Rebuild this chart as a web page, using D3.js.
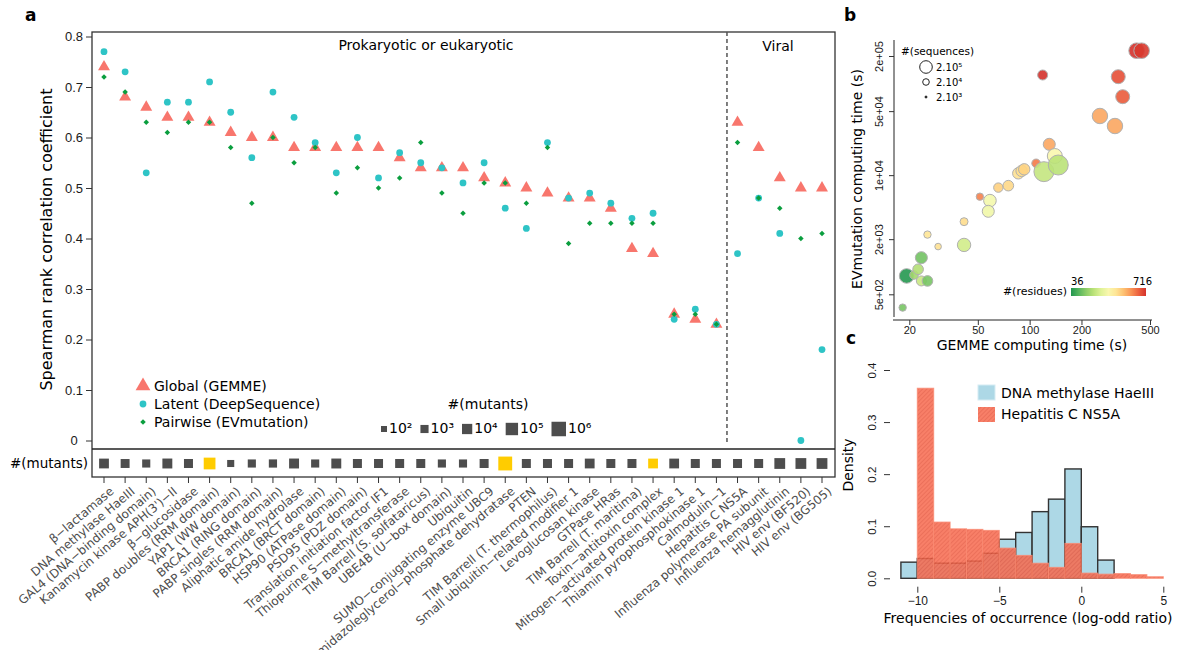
<!DOCTYPE html>
<html>
<head>
<meta charset="utf-8">
<style>
body { margin: 0; background: #fff; }
svg { font-family: "DejaVu Sans", sans-serif; }
.axis path { display: none; }
.axis line { stroke: #333; }
.axis text { fill: #1a1a1a; }
.cat text { fill: #4d4d4d; }
</style>
</head>
<body>
<svg width="1178" height="650"></svg>
<script src="https://d3js.org/d3.v7.min.js"></script>
<script>

// ---- panel a data ----
var proteins = ["β−lactamase", "DNA methylase HaeIII", "GAL4 (DNA−binding domain)", "Kanamycin kinase APH(3')−II",
  "β−glucosidase", "PABP doubles (RRM domain)", "YAP1 (WW domain)", "BRCA1 (RING domain)", "PABP singles (RRM domain)",
  "Aliphatic amide hydrolase", "BRCA1 (BRCT domain)", "HSP90 (ATPase domain)", "PSD95 (PDZ domain)",
  "Translation initiation factor IF1", "Thiopurine S−methyltransferase", "TIM Barrell (S. solfataricus)",
  "UBE4B (U−box domain)", "Ubiquitin", "SUMO−conjugating enzyme UBC9", "Imidazoleglycerol−phosphate dehydratase",
  "PTEN", "TIM Barrell (T. thermophilus)", "Small ubiquitin−related modifier 1", "Levoglucosan kinase",
  "GTPase HRas", "TIM Barrell (T. maritima)", "Toxin−antitoxin complex", "Mitogen−activated protein kinase 1",
  "Thiamin pyrophosphokinase 1", "Calmodulin−1", "Hepatitis C NS5A", "Influenza polymerase PA subunit",
  "Influenza hemagglutinin", "HIV env (BF520)", "HIV env (BG505)"];
var nViral = 5;

var gemmeRho = [0.74, 0.68, 0.66, 0.64, 0.64, 0.63, 0.61, 0.60, 0.60, 0.58, 0.58, 0.58, 0.58, 0.58, 0.56, 0.54, 0.54, 0.54,
  0.52, 0.51, 0.50, 0.49, 0.48, 0.48, 0.46, 0.38, 0.37, 0.25, 0.24, 0.23, 0.63, 0.58, 0.52, 0.50, 0.50];
var deepRho = [0.77, 0.73, 0.53, 0.67, 0.67, 0.71, 0.65, 0.56, 0.69, 0.64, 0.59, 0.53, 0.60, 0.52, 0.57, 0.55, 0.54, 0.51,
  0.55, 0.46, 0.42, 0.59, 0.48, 0.49, 0.47, 0.44, 0.45, 0.24, 0.26, 0.23, 0.37, 0.48, 0.41, 0.00, 0.18];
var evRho = [0.72, 0.69, 0.63, 0.61, 0.63, 0.63, 0.58, 0.47, 0.60, 0.55, 0.58, 0.49, 0.54, 0.50, 0.52, 0.59, 0.49, 0.45,
  0.51, 0.51, 0.47, 0.58, 0.39, 0.43, 0.43, 0.43, 0.43, 0.25, 0.25, 0.23, 0.59, 0.48, 0.46, 0.40, 0.41];
var mutants = [6000, 2400, 1000, 7000, 2600, 50000, 320, 1000, 1100, 7000, 1000, 7000, 2600, 2600, 2600, 2600, 1000, 1000,
  2600, 500000, 2600, 2600, 2600, 6000, 2600, 2600, 6000, 6000, 2600, 2600, 2600, 2600, 18000, 18000, 18000];
var multiMutant = ["PABP doubles (RRM domain)", "Imidazoleglycerol−phosphate dehydratase", "Toxin−antitoxin complex"];
var yTicksA = [0, 0.1, 0.2, 0.3, 0.4, 0.5, 0.6, 0.7, 0.8];
var mutantLegend = [1e2, 1e3, 1e4, 1e5, 1e6];
var mutantLegendLabels = ["10²", "10³", "10⁴", "10⁵", "10⁶"];
var methods = ["Global (GEMME)", "Latent (DeepSequence)", "Pairwise (EVmutation)"];

// ---- panel b data ----
var gemmeTime = [18.3, 19.3, 21.3, 22.5, 23.5, 23.5, 25.5, 25.5, 29.4, 41.6, 41.6, 51.4, 58.8, 57.5, 65.8, 75.2, 85.9, 89.8,
  93, 109, 121, 130, 140, 146.6, 119, 256, 313, 327, 347, 418, 447];
var evTime = [358, 793, 813, 938, 1256, 700, 700, 2244, 1660, 1730, 3105, 5820, 5270, 4030, 7310, 7680, 10470, 11120,
  11580, 13460, 10920, 21710, 16180, 12900, 124000, 44260, 34400, 118900, 71900, 228600, 228600];
var residues = [146, 40, 206, 231, 138, 265, 146, 444, 452, 282, 461, 605, 359, 350, 486, 470, 452, 461,
  478, 614, 257, 554, 376, 240, 716, 554, 554, 673, 656, 716, 707];
var sequences = [27000, 430000, 43000, 93000, 160000, 74000, 93000, 27000, 20000, 270000, 34000, 27000, 200000, 160000,
  59000, 93000, 126000, 126000, 126000, 43000, 3400000, 160000, 500000, 3400000, 74000, 590000, 590000, 340000, 340000,
  630000, 630000];
var xTicksB = [20, 50, 100, 200, 500];
var yTicksB = [500, 2000, 10000, 50000, 200000];
var yTickLabelsB = ["5e+02", "2e+03", "1e+04", "5e+04", "2e+05"];
var seqLegend = [2e5, 2e4, 2e3];
var seqLegendLabels = ["2.10⁵", "2.10⁴", "2.10³"];

// ---- panel c data (bins of width 1, left edges) ----
var binLeft = [-11, -10, -9, -8, -7, -6, -5, -4, -3, -2, -1, 0, 1, 2, 3, 4];
var haeIII = [0.031, 0.038, 0.029, 0.029, 0.033, 0.048, 0.075, 0.088, 0.128, 0.152, 0.21, 0.099, 0.035, 0, 0, 0];
var ns5a = [0, 0.365, 0.108, 0.095, 0.094, 0.092, 0.058, 0.044, 0.029, 0.021, 0.067, 0.010, 0.008, 0.009, 0.007, 0.003];

var svg = d3.select("svg");
var defs = svg.append("defs");

var hatch = defs.append("pattern")
    .attr("id", "hatch")
    .attr("patternUnits", "userSpaceOnUse")
    .attr("width", 3).attr("height", 3)
    .attr("patternTransform", "rotate(45)");
hatch.append("rect").attr("width", 3).attr("height", 3).attr("fill", "#f7694d");
hatch.append("line").attr("x1", 0.5).attr("y1", 0).attr("x2", 0.5).attr("y2", 3)
    .attr("stroke", "#e4533a").attr("stroke-width", 0.8);

// ================= panel a =================
var ga = svg.append("g");
var box = {x0: 92, x1: 835, y0: 32, y1: 449, y2: 477};

var xa = d3.scalePoint().domain(proteins).range([104, 822]);
var ya = d3.scaleLinear().domain([0, 0.8]).range([440.5, 36.5]);
var sq = d3.scaleLinear().domain([2, 6]).range([6, 14.5]);

ga.append("rect")
    .attr("x", box.x0).attr("y", box.y0)
    .attr("width", box.x1 - box.x0).attr("height", box.y2 - box.y0)
    .attr("fill", "none").attr("stroke", "#333").attr("stroke-width", 1.3);
ga.append("line")
    .attr("x1", box.x0).attr("x2", box.x1).attr("y1", box.y1).attr("y2", box.y1)
    .attr("stroke", "#222").attr("stroke-width", 1.6);

var yAxisA = ga.append("g").attr("class", "axis")
    .attr("transform", "translate(" + box.x0 + ",0)")
    .call(d3.axisLeft(ya).tickValues(yTicksA).tickSize(6)
      .tickFormat(function(d) { return d === 0 ? "0" : d3.format(".1f")(d); }))
    .style("font-size", "13px");
yAxisA.selectAll("text").attr("x", -18).attr("text-anchor", "middle");
yAxisA.select(".domain").remove();

ga.append("text")
    .attr("transform", "translate(52," + (ya(0.4) + 1) + ") rotate(-90)")
    .attr("text-anchor", "middle")
    .style("font-size", "16px")
    .text("Spearman rank correlation coefficient");

// separator between groups
var xSplit = (xa(proteins[proteins.length - nViral - 1]) + xa(proteins[proteins.length - nViral])) / 2;
ga.append("line")
    .attr("x1", xSplit).attr("x2", xSplit).attr("y1", box.y0).attr("y2", box.y1 - 6)
    .attr("stroke", "#555").attr("stroke-width", 1.5).attr("stroke-dasharray", "4,3");

ga.append("text").attr("x", 426).attr("y", 50).attr("text-anchor", "middle")
    .style("font-size", "14px").text("Prokaryotic or eukaryotic");
ga.append("text").attr("x", (xSplit + box.x1) / 2 - 3).attr("y", 51).attr("text-anchor", "middle")
    .style("font-size", "14px").text("Viral");

// points
var triangle = d3.symbol().type(d3.symbolTriangle).size(62);
var diamond = d3.symbol().type(d3.symbolSquare).size(15);

ga.append("g").selectAll("path")
    .data(proteins)
    .enter().append("path")
    .attr("d", triangle)
    .attr("transform", function(d, i) { return "translate(" + xa(d) + "," + ya(gemmeRho[i]) + ")"; })
    .attr("fill", "#f8766d");

ga.append("g").selectAll("circle")
    .data(proteins)
    .enter().append("circle")
    .attr("cx", function(d) { return xa(d); })
    .attr("cy", function(d, i) { return ya(deepRho[i]); })
    .attr("r", 3.4)
    .attr("fill", "#2ec4c6");

ga.append("g").selectAll("path")
    .data(proteins)
    .enter().append("path")
    .attr("d", diamond)
    .attr("transform", function(d, i) { return "translate(" + xa(d) + "," + ya(evRho[i]) + ") rotate(45)"; })
    .attr("fill", "#0a9e3e");

// mutant strip
var stripY = (box.y1 + box.y2) / 2 + 0.5;
ga.append("g").selectAll("rect")
    .data(proteins)
    .enter().append("rect")
    .each(function(d, i) {
      var s = sq(Math.log10(mutants[i]));
      d3.select(this)
        .attr("x", xa(d) - s / 2).attr("y", stripY - s / 2)
        .attr("width", s).attr("height", s)
        .attr("fill", multiMutant.indexOf(d) >= 0 ? "#ffcc00" : "#4d4d4d");
    });

ga.append("text")
    .attr("x", 88).attr("y", stripY + 4.5)
    .attr("text-anchor", "end")
    .style("font-size", "13.5px")
    .text("#(mutants)");

// category ticks & labels
var cat = ga.append("g").attr("class", "cat");
cat.selectAll("line")
    .data(proteins)
    .enter().append("line")
    .attr("x1", function(d) { return xa(d); }).attr("x2", function(d) { return xa(d); })
    .attr("y1", box.y2).attr("y2", box.y2 + 6)
    .attr("stroke", "#333");
cat.selectAll("text")
    .data(proteins)
    .enter().append("text")
    .attr("transform", function(d) { return "translate(" + (xa(d) + 5) + "," + (box.y2 + 9) + ") rotate(-40)"; })
    .attr("text-anchor", "end")
    .attr("dy", "0.72em")
    .style("font-size", "12px")
    .text(function(d) { return d; });

// legend: methods
var legA = ga.append("g").attr("transform", "translate(143,386)");
var legShapes = [
  function(g) { g.append("path").attr("d", d3.symbol().type(d3.symbolTriangle).size(95)).attr("fill", "#f8766d"); },
  function(g) { g.append("circle").attr("r", 3.4).attr("fill", "#2ec4c6"); },
  function(g) { g.append("path").attr("d", diamond).attr("transform", "rotate(45)").attr("fill", "#0a9e3e"); }
];
methods.forEach(function(m, i) {
  var g = legA.append("g").attr("transform", "translate(0," + i * 18 + ")");
  legShapes[i](g);
  g.append("text").attr("x", 11).attr("y", 5).style("font-size", "14px").text(m);
});

// legend: mutants
ga.append("text").attr("x", 488).attr("y", 409).attr("text-anchor", "middle")
    .style("font-size", "14px").text("#(mutants)");
var cx = 381;
mutantLegend.forEach(function(n, i) {
  var s = sq(Math.log10(n));
  ga.append("rect").attr("x", cx).attr("y", 429 - s / 2).attr("width", s).attr("height", s).attr("fill", "#4d4d4d");
  var t = ga.append("text").attr("x", cx + s + 2).attr("y", 433).style("font-size", "14px").text(mutantLegendLabels[i]);
  cx += s + 2 + t.node().getComputedTextLength() + 8;
});

svg.append("text").attr("x", 25).attr("y", 21).style("font-size", "17px").style("font-weight", "bold").text("a");

// ================= panel b =================
var gb = svg.append("g");
var xb = d3.scaleLog().domain([20, 500]).range([909.3, 1150]);
var yb = d3.scaleLog().domain([500, 2e5]).range([294.3, 56]);
var rb = d3.scaleLog().domain([1585, 2e6]).range([0, 9.3]);
var colorRes = d3.scaleSequential(d3.interpolateRdYlGn).domain([801, -49]);
function radius(n) { return Math.max(1, rb(n)); }

gb.append("line").attr("x1", 894).attr("x2", 894).attr("y1", 40).attr("y2", 317).attr("stroke", "#222");
gb.append("line").attr("x1", 893).attr("x2", 1152).attr("y1", 320).attr("y2", 320).attr("stroke", "#222");

var xAxisB = gb.append("g").attr("class", "axis").attr("transform", "translate(0,320)")
    .call(d3.axisBottom(xb).tickValues(xTicksB).tickSize(5).tickPadding(1).tickFormat(d3.format("d")))
    .style("font-size", "11px");
var yAxisB = gb.append("g").attr("class", "axis").attr("transform", "translate(894,0)")
    .call(d3.axisLeft(yb).tickValues(yTicksB).tickSize(5).tickFormat(function(d, i) { return yTickLabelsB[i]; }))
    .style("font-size", "11px");
yAxisB.selectAll("text").attr("x", null).attr("dy", null)
    .attr("text-anchor", "middle").attr("transform", "translate(-11,0) rotate(-90)");

gb.append("text").attr("transform", "translate(862,179) rotate(-90)").attr("text-anchor", "middle")
    .style("font-size", "14px").text("EVmutation computing time (s)");
gb.append("text").attr("x", 1032).attr("y", 350).attr("text-anchor", "middle")
    .style("font-size", "14px").text("GEMME computing time (s)");

gb.append("g").selectAll("circle")
    .data(gemmeTime)
    .enter().append("circle")
    .attr("cx", function(d) { return xb(d); })
    .attr("cy", function(d, i) { return yb(evTime[i]); })
    .attr("r", function(d, i) { return radius(sequences[i]); })
    .attr("fill", function(d, i) { return colorRes(residues[i]); })
    .attr("fill-opacity", 0.9)
    .attr("stroke", "#b0b0b0").attr("stroke-width", 1);

// size legend
gb.append("text").attr("x", 901).attr("y", 55).style("font-size", "10.5px").text("#(sequences)");
seqLegend.forEach(function(n, i) {
  var y = 67 + i * 15;
  gb.append("circle").attr("cx", 926).attr("cy", y).attr("r", radius(n))
    .attr("fill", i === 2 ? "#222" : "#fff").attr("stroke", "#222").attr("stroke-width", 1);
  gb.append("text").attr("x", 936).attr("y", y + 3.5).style("font-size", "10px").text(seqLegendLabels[i]);
});

// colour bar
var grad = defs.append("linearGradient").attr("id", "resgrad");
d3.range(0, 1.001, 0.1).forEach(function(t) {
  grad.append("stop").attr("offset", t).attr("stop-color", colorRes(36 + t * 680));
});
gb.append("rect").attr("x", 1071).attr("y", 288).attr("width", 75).attr("height", 8).attr("fill", "url(#resgrad)");
gb.append("text").attr("x", 1067).attr("y", 295).attr("text-anchor", "end").style("font-size", "11px").text("#(residues)");
gb.append("text").attr("x", 1071).attr("y", 284.5).style("font-size", "10px").text("36");
gb.append("text").attr("x", 1152).attr("y", 284.5).attr("text-anchor", "end").style("font-size", "10px").text("716");

svg.append("text").attr("x", 844).attr("y", 21).style("font-size", "17px").style("font-weight", "bold").text("b");

// ================= panel c =================
var gc = svg.append("g");
var xc = d3.scaleLinear().domain([-10, 5]).range([917.3, 1163.3]);
var yc = d3.scaleLinear().domain([0, 0.4]).range([578.3, 370]);

gc.append("g").selectAll("rect")
    .data(binLeft)
    .enter().filter(function(d, i) { return haeIII[i] > 0; }).append("rect")
    .attr("x", function(d) { return xc(d); })
    .attr("width", function(d) { return xc(d + 1) - xc(d); })
    .attr("y", function(d) { return yc(haeIII[binLeft.indexOf(d)]); })
    .attr("height", function(d) { return yc(0) - yc(haeIII[binLeft.indexOf(d)]); })
    .attr("fill", "#add8e6").attr("stroke", "#333").attr("stroke-width", 1.4);

gc.append("g").selectAll("rect")
    .data(binLeft)
    .enter().filter(function(d, i) { return ns5a[i] > 0; }).append("rect")
    .attr("x", function(d) { return xc(d); })
    .attr("width", function(d) { return xc(d + 1) - xc(d); })
    .attr("y", function(d) { return yc(ns5a[binLeft.indexOf(d)]); })
    .attr("height", function(d) { return yc(0) - yc(ns5a[binLeft.indexOf(d)]); })
    .attr("fill", "url(#hatch)").attr("fill-opacity", 0.85)
    .attr("stroke", "#f98a72").attr("stroke-width", 1).attr("stroke-opacity", 0.8);

var xAxisC = gc.append("g").attr("class", "axis").attr("transform", "translate(0,586.7)")
    .call(d3.axisBottom(xc).tickValues([-10, -5, 0, 5]).tickSize(6).tickPadding(4))
    .style("font-size", "12px");
xAxisC.select(".domain").style("display", null).attr("stroke", "#222").attr("d", "M" + xc(-10) + ",0H" + xc(5));

var yAxisC = gc.append("g").attr("class", "axis").attr("transform", "translate(890,0)")
    .call(d3.axisLeft(yc).tickValues([0, 0.1, 0.2, 0.3, 0.4]).tickSize(6).tickFormat(d3.format(".1f")))
    .style("font-size", "11.5px");
yAxisC.select(".domain").style("display", null).attr("stroke", "#222").attr("d", "M0," + yc(0) + "V" + yc(0.4));
yAxisC.selectAll("text").attr("x", null).attr("dy", null)
    .attr("text-anchor", "middle").attr("transform", "translate(-14,0) rotate(-90)");

gc.append("text").attr("transform", "translate(853,465) rotate(-90)").attr("text-anchor", "middle")
    .style("font-size", "14px").text("Density");
gc.append("text").attr("x", 1028).attr("y", 623).attr("text-anchor", "middle")
    .style("font-size", "14px").text("Frequencies of occurrence (log-odd ratio)");

// legend c
gc.append("rect").attr("x", 978).attr("y", 385).attr("width", 17).attr("height", 15)
    .attr("fill", "#add8e6").attr("stroke", "#d6ecf3");
gc.append("rect").attr("x", 978).attr("y", 407).attr("width", 17).attr("height", 15)
    .attr("fill", "url(#hatch)").attr("fill-opacity", 0.85);
gc.append("text").attr("x", 1001).attr("y", 398).style("font-size", "14px").text("DNA methylase HaeIII");
gc.append("text").attr("x", 1001).attr("y", 419).style("font-size", "14px").text("Hepatitis C NS5A");

svg.append("text").attr("x", 846).attr("y", 344).style("font-size", "17px").style("font-weight", "bold").text("c");

</script>
</body>
</html>
